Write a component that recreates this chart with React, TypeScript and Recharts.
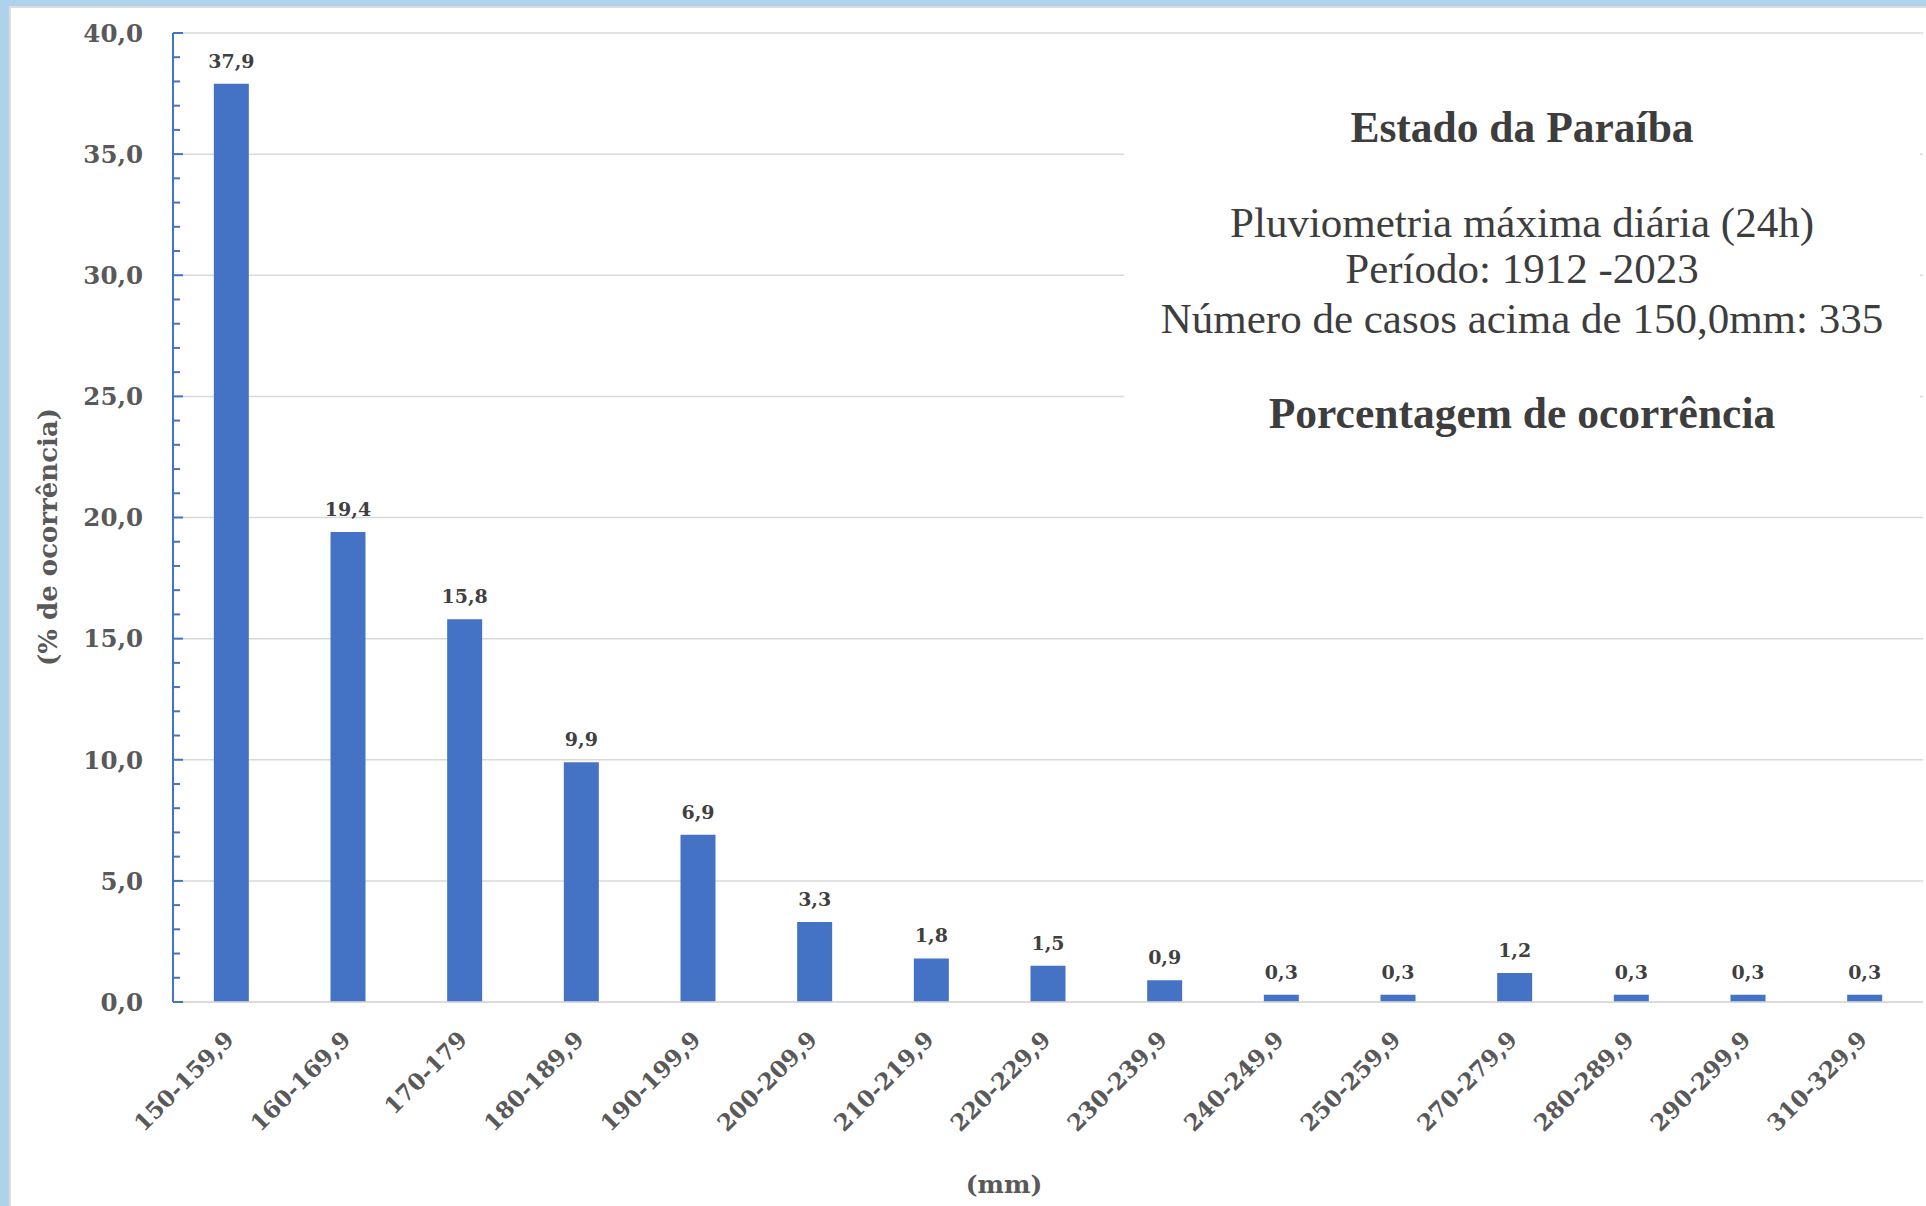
import React from 'react';
import { BarChart, Bar, XAxis, YAxis, CartesianGrid, LabelList } from 'recharts';

const categories = [
  '150-159,9', '160-169,9', '170-179', '180-189,9', '190-199,9',
  '200-209,9', '210-219,9', '220-229,9', '230-239,9', '240-249,9',
  '250-259,9', '270-279,9', '280-289,9', '290-299,9', '310-329,9',
];
const percentages = [37.9, 19.4, 15.8, 9.9, 6.9, 3.3, 1.8, 1.5, 0.9, 0.3, 0.3, 1.2, 0.3, 0.3, 0.3];
const yMajorTicks = [0, 5, 10, 15, 20, 25, 30, 35, 40];
const yAllTicks = [
  0, 1, 2, 3, 4, 5, 6, 7, 8, 9, 10, 11, 12, 13, 14, 15, 16, 17, 18, 19, 20,
  21, 22, 23, 24, 25, 26, 27, 28, 29, 30, 31, 32, 33, 34, 35, 36, 37, 38, 39, 40,
];
const titleLines = [
  { text: 'Estado da Paraíba', bold: true },
  { text: 'Pluviometria máxima diária (24h)', bold: false },
  { text: 'Período: 1912 -2023', bold: false },
  { text: 'Número de casos acima de 150,0mm: 335', bold: false },
  { text: 'Porcentagem de ocorrência', bold: true },
];
const titleBaselines = [142, 237, 283, 333, 428];
const yAxisTitle = '(% de ocorrência)';
const xAxisTitle = '(mm)';

const data = categories.map((c, i) => ({ faixa: c, pct: percentages[i] }));

const fmt = (v: number) => v.toFixed(1).replace('.', ',');

const W = 1926;
const H = 1206;
const BLUE = '#4472c4';
const SERIF = '"DejaVu Serif", serif';
const TICK_GAP = 30;

const YTick = (props: any) => {
  const { x, y, payload } = props;
  const v = Number(payload.value);
  const major = v % 5 === 0;
  const axisX = x + TICK_GAP;
  return (
    <g>
      <line x1={axisX} x2={axisX + (major ? 10 : 7)} y1={y} y2={y} stroke={BLUE} strokeWidth={2} />
      {major && (
        <text x={x} y={y} dy="0.36em" textAnchor="end" fontFamily={SERIF} fontWeight="bold" fontSize={24.5} fill="#595959">
          {fmt(v)}
        </text>
      )}
    </g>
  );
};

const XTick = (props: any) => {
  const { x, y, payload } = props;
  return (
    <text
      transform={`translate(${x + 4},${y + 39}) rotate(-45)`}
      textAnchor="end"
      fontFamily={SERIF}
      fontWeight="bold"
      fontSize={23}
      fill="#595959"
    >
      {payload.value}
    </text>
  );
};

const BarLabel = (props: any) => {
  const { x, y, width, value } = props;
  return (
    <text x={x + width / 2} y={y - 16} textAnchor="middle" fontFamily={SERIF} fontWeight="bold" fontSize={19} fill="#404040">
      {fmt(Number(value))}
    </text>
  );
};

export default function App() {
  return (
    <div style={{ position: 'absolute', left: 0, top: 0, width: W, height: H, background: '#ffffff', overflow: 'hidden' }}>
      <BarChart
        width={W}
        height={H}
        data={data}
        margin={{ top: 33, right: 3, bottom: 0, left: 0 }}
        barCategoryGap="35%"
      >
        <CartesianGrid vertical={false} horizontalValues={yMajorTicks} stroke="#d9d9d9" strokeWidth={1.5} />
        <XAxis
          dataKey="faixa"
          interval={0}
          height={204}
          tickLine={false}
          tickSize={0}
          tickMargin={0}
          axisLine={{ stroke: '#d9d9d9', strokeWidth: 1.5 }}
          tick={<XTick />}
        />
        <YAxis
          width={173}
          domain={[0, 40]}
          ticks={yAllTicks}
          interval={0}
          tickLine={false}
          tickSize={0}
          tickMargin={TICK_GAP}
          axisLine={{ stroke: BLUE, strokeWidth: 2 }}
          tick={<YTick />}
        />
        <Bar dataKey="pct" fill={BLUE} isAnimationActive={false}>
          <LabelList dataKey="pct" content={<BarLabel />} />
        </Bar>
      </BarChart>
      <svg
        width={W}
        height={H}
        style={{ position: 'absolute', left: 0, top: 0, pointerEvents: 'none' }}
      >
        <rect x={0} y={0} width={W} height={6} fill="#aed1ec" />
        <rect x={0} y={6} width={W} height={2} fill="#dcdcdc" />
        <rect x={0} y={0} width={9} height={H} fill="#aed1ec" />
        <rect x={9} y={6} width={2} height={H} fill="#dcdcdc" />
        <rect x={1124} y={80} width={796} height={380} fill="#ffffff" />
        {titleLines.map((l, i) => (
          <text
            key={i}
            x={1522}
            y={titleBaselines[i]}
            textAnchor="middle"
            fontFamily='"Liberation Serif", serif'
            fontWeight={l.bold ? 'bold' : 'normal'}
            fontSize={l.bold ? 43.5 : 43}
            fill="#3d3d3d"
          >
            {l.text}
          </text>
        ))}
        <text
          transform="translate(48,537) rotate(-90)"
          textAnchor="middle"
          dy="0.35em"
          fontFamily={SERIF}
          fontWeight="bold"
          fontSize={26}
          fill="#595959"
        >
          {yAxisTitle}
        </text>
        <text x={1004} y={1193} textAnchor="middle" fontFamily={SERIF} fontWeight="bold" fontSize={25} fill="#595959">
          {xAxisTitle}
        </text>
      </svg>
    </div>
  );
}
